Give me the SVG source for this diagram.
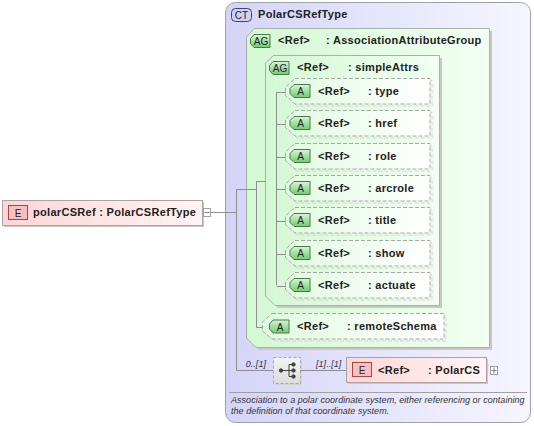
<svg xmlns="http://www.w3.org/2000/svg" width="534" height="426" viewBox="0 0 534 426">
<defs>
<linearGradient id="ctG" x1="0" y1="0" x2="1" y2="0"><stop offset="0" stop-color="#d4d4f8"/><stop offset="1" stop-color="#f6f6ff"/></linearGradient>
<linearGradient id="agG" x1="0" y1="0" x2="1" y2="0"><stop offset="0" stop-color="#d4f8d4"/><stop offset="1" stop-color="#f2fff2"/></linearGradient>
<linearGradient id="atG" x1="0" y1="0" x2="1" y2="0"><stop offset="0" stop-color="#e0fae0"/><stop offset="1" stop-color="#ffffff"/></linearGradient>
<linearGradient id="elG" x1="0" y1="0" x2="1" y2="0"><stop offset="0" stop-color="#fdd6d6"/><stop offset="1" stop-color="#fff4f4"/></linearGradient>
<linearGradient id="bgG" x1="0" y1="0" x2="0" y2="1"><stop offset="0" stop-color="#d8f4d8"/><stop offset="1" stop-color="#70cc70"/></linearGradient>
<linearGradient id="sqG" x1="0" y1="0" x2="0" y2="1"><stop offset="0" stop-color="#f4f4f4"/><stop offset="1" stop-color="#dcdcdc"/></linearGradient>
<path id="abox" d="M10,0.5 H145 V26 H10 L0.5,17.5 V9 Z"/>
<path id="abadge" d="M9,6.5 H25 V19.5 H9 L5,15.5 V10.5 Z"/>
<g id="attr">
<use href="#abox" transform="translate(2,2)" class="ashadow"/>
<use href="#abox" class="abox"/>
<use href="#abadge" class="badgeA"/>
<text x="15.5" y="17" class="bt" text-anchor="middle">A</text>
</g>
</defs>
<style>
.conn{stroke:#8e8e8e;stroke-width:1;fill:none}
.t{font-family:"Liberation Sans",Arial,sans-serif;font-size:11px;font-weight:bold;fill:#222;letter-spacing:0.3px}
.bt{font-family:"Liberation Sans",Arial,sans-serif;font-size:10px;fill:#222}
.d{font-family:"Liberation Sans",Arial,sans-serif;font-size:9px;font-style:italic;fill:#333;letter-spacing:0.04px}
.abox{fill:url(#atG);stroke:#a8a8a8;stroke-dasharray:4,2}
.ashadow{fill:none;stroke:#d4d4d4;stroke-dasharray:4,2}
.badgeA{fill:url(#bgG);stroke:#4a7a4a}
.agbox{fill:url(#agG);stroke:#a4b4a4}
.shadow{fill:#c8c8c8}
.ebox{fill:url(#elG);stroke:#b0a0a0}
.ebadge{fill:#f6c0c0;stroke:#a04848}
</style>

<g id="ct-PolarCSRefType">
<rect x="225.5" y="2.5" width="305" height="420" rx="10" fill="url(#ctG)" stroke="#a0a0a8"/>
<rect x="231.5" y="8.5" width="20" height="13" rx="4" fill="#d0d0f6" stroke="#404070"/>
<text x="241.5" y="18.5" class="bt" text-anchor="middle">CT</text>
<text x="258" y="18" class="t">PolarCSRefType</text>
<line x1="229" y1="392.5" x2="527" y2="392.5" stroke="#a0a0a0"/>
<text x="231" y="403" class="d">Association to a polar coordinate system, either referencing or containing</text>
<text x="231" y="414" class="d">the definition of that coordinate system.</text>
</g>

<g id="ag-AssociationAttributeGroup">
<path class="shadow" d="M257,31 H492 V350 H259 L249,340 V41 Z"/>
<path class="agbox" d="M254.5,28.5 H489.5 V347.5 H256 L246.5,338 V37 Z"/>
<path class="badgeA" d="M254,34.5 H270 V47.5 H254 L250.5,43.5 V38.5 Z"/>
<text x="261" y="45" class="bt" text-anchor="middle">AG</text>
<text x="278" y="44" class="t">&lt;Ref&gt;</text>
<text x="326" y="44" class="t">: AssociationAttributeGroup</text>
</g>

<g id="ag-simpleAttrs">
<path class="shadow" d="M276,58 H442 V308 H278 L268,298 V66 Z"/>
<path class="agbox" d="M273.5,55.5 H439.5 V305.5 H275 L265.5,296 V63 Z"/>
<path class="badgeA" d="M273,61.5 H289 V74.5 H273 L269.5,70.5 V65.5 Z"/>
<text x="280" y="72" class="bt" text-anchor="middle">AG</text>
<text x="297" y="71" class="t">&lt;Ref&gt;</text>
<text x="348" y="71" class="t">: simpleAttrs</text>
</g>

<g id="attr-type"><use href="#attr" transform="translate(285,78)"/><text x="318" y="95" class="t">&lt;Ref&gt;</text><text x="368" y="95" class="t">: type</text></g>
<g id="attr-href"><use href="#attr" transform="translate(285,110)"/><text x="318" y="127" class="t">&lt;Ref&gt;</text><text x="368" y="127" class="t">: href</text></g>
<g id="attr-role"><use href="#attr" transform="translate(285,143)"/><text x="318" y="160" class="t">&lt;Ref&gt;</text><text x="368" y="160" class="t">: role</text></g>
<g id="attr-arcrole"><use href="#attr" transform="translate(285,175)"/><text x="318" y="192" class="t">&lt;Ref&gt;</text><text x="368" y="192" class="t">: arcrole</text></g>
<g id="attr-title"><use href="#attr" transform="translate(285,207)"/><text x="318" y="224" class="t">&lt;Ref&gt;</text><text x="368" y="224" class="t">: title</text></g>
<g id="attr-show"><use href="#attr" transform="translate(285,240)"/><text x="318" y="257" class="t">&lt;Ref&gt;</text><text x="368" y="257" class="t">: show</text></g>
<g id="attr-actuate"><use href="#attr" transform="translate(285,272)"/><text x="318" y="289" class="t">&lt;Ref&gt;</text><text x="368" y="289" class="t">: actuate</text></g>

<g id="attr-remoteSchema">
<path class="ashadow" d="M274,315 H446 V341 H274 L264.5,333 V323 Z"/>
<path class="abox" d="M272,313.5 H444 V339 H272 L262.5,331 V322 Z"/>
<path class="badgeA" d="M273,320 H289 V333 H273 L269.5,329 V324 Z"/>
<text x="280" y="330.5" class="bt" text-anchor="middle">A</text>
<text x="297" y="330" class="t">&lt;Ref&gt;</text>
<text x="347" y="330" class="t">: remoteSchema</text>
</g>

<g id="el-polarCSRef">
<rect x="4" y="202" width="200" height="25" class="shadow"/>
<rect x="2.5" y="200.5" width="200" height="25" class="ebox"/>
<rect x="8.5" y="205.5" width="19" height="14" class="ebadge"/>
<text x="18" y="216.5" class="bt" text-anchor="middle">E</text>
<text x="33" y="216" class="t">polarCSRef : PolarCSRefType</text>
<rect x="203.5" y="208.5" width="7" height="8" fill="#fff" stroke="#a0a0a0"/>
<line x1="204.5" y1="212.5" x2="209.5" y2="212.5" stroke="#808080"/>
</g>

<g id="seq">
<rect x="275" y="359" width="27" height="26" fill="#d4d4d4"/>
<rect x="273.5" y="357.5" width="27" height="26" fill="url(#sqG)" stroke="#a8a8a8" stroke-dasharray="3,2"/>
<g fill="#404040" stroke="#404040">
<circle cx="281" cy="370.5" r="1.7"/>
<line x1="281" y1="370.5" x2="289" y2="370.5"/>
<line x1="289" y1="364.5" x2="289" y2="376.5"/>
<line x1="289" y1="364.5" x2="293" y2="364.5"/>
<line x1="289" y1="376.5" x2="293" y2="376.5"/>
<line x1="289" y1="370.5" x2="293" y2="370.5"/>
<circle cx="293.5" cy="364.5" r="1.7"/>
<circle cx="293.5" cy="370.5" r="1.7"/>
<circle cx="293.5" cy="376.5" r="1.7"/>
</g>
<text x="266" y="367" class="d" text-anchor="end">0..[1]</text>
<text x="316" y="367" class="d">[1]..[1]</text>
</g>

<g id="el-PolarCS">
<rect x="348" y="359" width="140" height="25" class="shadow"/>
<rect x="346.5" y="357.5" width="140" height="25" class="ebox"/>
<rect x="352.5" y="362.5" width="19" height="14" class="ebadge"/>
<text x="362" y="373.5" class="bt" text-anchor="middle">E</text>
<text x="378" y="374" class="t">&lt;Ref&gt;</text>
<text x="428" y="374" class="t">: PolarCS</text>
<rect x="490.5" y="366.5" width="7" height="8" fill="#fff" stroke="#a0a0a0"/>
<line x1="491.5" y1="370.5" x2="496.5" y2="370.5" stroke="#808080"/>
<line x1="494" y1="367.5" x2="494" y2="373.5" stroke="#808080"/>
</g>

<g id="connectors" class="conn">
<path d="M211,212.5 H236.5"/>
<path d="M236.5,189 V371"/>
<path d="M236.5,189.5 H256.5"/>
<path d="M236.5,370.5 H273"/>
<path d="M300,370.5 H346"/>
<path d="M256.5,181 V327.5"/>
<path d="M256.5,181.5 H265.5"/>
<path d="M256.5,327.5 H263"/>
<path d="M276.5,92 V285"/>
<path d="M276.5,92.5 H286"/>
<path d="M276.5,124.5 H286"/>
<path d="M276.5,157.5 H286"/>
<path d="M276.5,189.5 H286"/>
<path d="M276.5,221.5 H286"/>
<path d="M276.5,254.5 H286"/>
<path d="M276.5,286.5 H286"/>
</g>
</svg>
